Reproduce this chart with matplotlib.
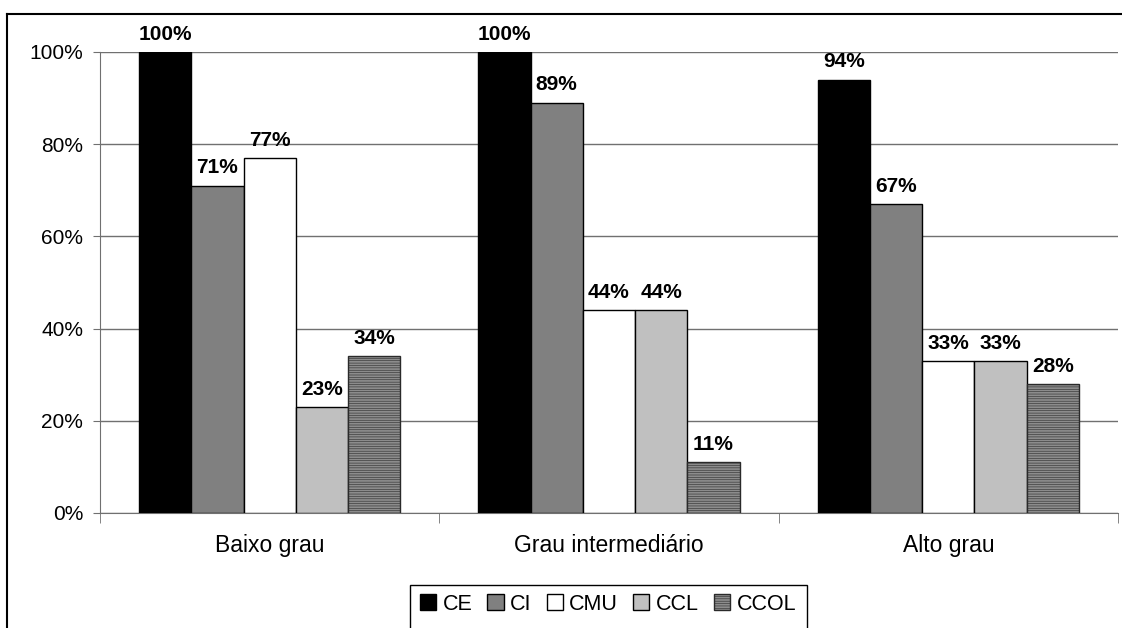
import matplotlib.pyplot as plt
from matplotlib.lines import Line2D
from matplotlib.patches import Rectangle
import numpy as np

plt.rcParams['font.family'] = ['Liberation Sans', 'DejaVu Sans']
plt.rcParams['hatch.linewidth'] = 0.4

categories = ['Baixo grau', 'Grau intermediário', 'Alto grau']
series = ['CE', 'CI', 'CMU', 'CCL', 'CCOL']
ce = [100, 100, 94]
ci = [71, 89, 67]
cmu = [77, 44, 33]
ccl = [23, 44, 33]
ccol = [34, 11, 28]
values = [ce, ci, cmu, ccl, ccol]

colors = ['#000000', '#808080', '#ffffff', '#c0c0c0', '#8c8c8c']
edges = ['black', 'black', 'black', 'black', '#2a2a2a']
hatches = [None, None, None, None, '-------']

fig = plt.figure(figsize=(11.22, 6.28), dpi=100)
ax = fig.add_axes([100 / 1122, 1 - 513 / 628, 1018 / 1122, 461 / 628])

x = np.arange(len(categories))
w = 0.154
for i, (name, vals) in enumerate(zip(series, values)):
    pos = x + (i - 2) * w
    bars = ax.bar(pos, vals, width=w, color=colors[i], edgecolor=edges[i],
                  linewidth=1, hatch=hatches[i], label=name, zorder=3)
    for b, v in zip(bars, vals):
        ax.text(b.get_x() + b.get_width() / 2, v + 1.8, f'{v}%', ha='center',
                va='bottom', fontsize=15, fontweight='bold', zorder=4)

ax.set_xlim(-0.5, 2.5)
ax.set_ylim(0, 100)
ax.set_yticks(range(0, 101, 20))
ax.set_yticklabels([f'{t}%' for t in range(0, 101, 20)], fontsize=15)
ax.yaxis.grid(True, color='#707070', linewidth=1)
ax.set_axisbelow(True)

ax.set_xticks(x)
ax.set_xticklabels(categories, fontsize=16.5)
ax.tick_params(axis='x', which='major', length=0, pad=15)
ax.set_xticks([-0.5, 0.5, 1.5, 2.5], minor=True)
ax.tick_params(axis='x', which='minor', length=7, color='#707070')
ax.tick_params(axis='y', length=5, color='#707070', pad=7)

for s in ['top', 'right']:
    ax.spines[s].set_visible(False)
for s in ['left', 'bottom']:
    ax.spines[s].set_color('#707070')

# outer chart frame (partially visible)
fig.add_artist(Line2D([7 / 1122, 7 / 1122], [1 - 14 / 628, -0.01], color='black', linewidth=1.5,
                      transform=fig.transFigure))
fig.add_artist(Line2D([7 / 1122, 1.01], [1 - 14 / 628, 1 - 14 / 628], color='black', linewidth=1.5,
                      transform=fig.transFigure))

# legend box, cut at the bottom
fig.add_artist(Rectangle((410 / 1122, -0.05), 397 / 1122, 0.05 + 1 - 585 / 628, fill=False,
                         edgecolor='black', linewidth=1, transform=fig.transFigure))
fig.legend(loc='center', bbox_to_anchor=(608 / 1122, 1 - 604 / 628), ncol=5, frameon=False,
           fontsize=15.5, handlelength=0.75, handleheight=0.75, handletextpad=0.3,
           columnspacing=0.7, borderpad=0)

fig.savefig('out.png', dpi=100)
